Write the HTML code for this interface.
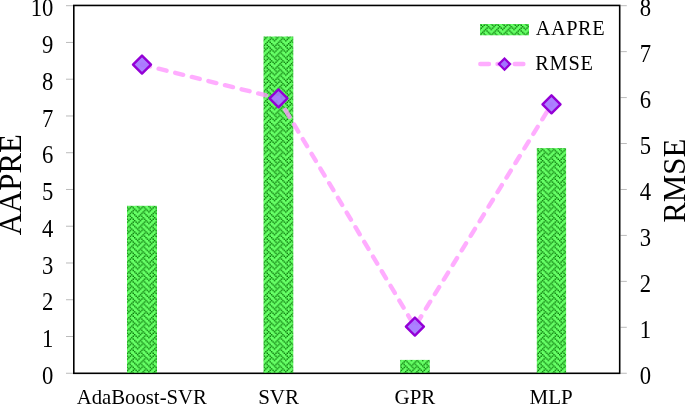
<!DOCTYPE html>
<html><head><meta charset="utf-8"><style>
html,body{margin:0;padding:0;background:#fff;overflow:hidden;}
svg{display:block;will-change:transform;}
text{font-family:"Liberation Serif",serif;fill:#000;}
</style></head><body>
<svg width="685" height="405" viewBox="0 0 685 405">
<defs>
<pattern id="wv" patternUnits="userSpaceOnUse" x="-0.09" y="0.27" width="11.410" height="11.410">
<rect width="11.410" height="11.410" fill="#66ff66"/>
<g fill="#006a00"><rect x="0.048" y="0.048" width="1.330" height="1.330"/><rect x="5.753" y="0.048" width="1.330" height="1.330"/><rect x="1.474" y="1.474" width="1.330" height="1.330"/><rect x="4.327" y="1.474" width="1.330" height="1.330"/><rect x="7.179" y="1.474" width="1.330" height="1.330"/><rect x="2.901" y="2.901" width="1.330" height="1.330"/><rect x="8.606" y="2.901" width="1.330" height="1.330"/><rect x="1.474" y="4.327" width="1.330" height="1.330"/><rect x="7.179" y="4.327" width="1.330" height="1.330"/><rect x="10.032" y="4.327" width="1.330" height="1.330"/><rect x="0.048" y="5.753" width="1.330" height="1.330"/><rect x="5.753" y="5.753" width="1.330" height="1.330"/><rect x="4.327" y="7.179" width="1.330" height="1.330"/><rect x="7.179" y="7.179" width="1.330" height="1.330"/><rect x="2.901" y="8.606" width="1.330" height="1.330"/><rect x="8.606" y="8.606" width="1.330" height="1.330"/><rect x="1.474" y="10.032" width="1.330" height="1.330"/><rect x="4.327" y="10.032" width="1.330" height="1.330"/><rect x="10.032" y="10.032" width="1.330" height="1.330"/></g>
</pattern>
</defs>
<path d="M66.0 373.25H73 M66.0 336.50H73 M66.0 299.74H73 M66.0 262.99H73 M66.0 226.23H73 M66.0 189.47H73 M66.0 152.72H73 M66.0 115.97H73 M66.0 79.21H73 M66.0 42.45H73 M66.0 5.70H73 M620.5 373.25H626.8 M620.5 327.31H626.8 M620.5 281.36H626.8 M620.5 235.42H626.8 M620.5 189.47H626.8 M620.5 143.53H626.8 M620.5 97.59H626.8 M620.5 51.64H626.8 M620.5 5.70H626.8" stroke="#bbb" stroke-width="1" fill="none"/>
<rect x="127.0" y="205.8" width="30.00" height="167.20" fill="url(#wv)"/>
<rect x="263.5" y="36.5" width="29.80" height="336.50" fill="url(#wv)"/>
<rect x="400.1" y="359.9" width="29.70" height="13.10" fill="url(#wv)"/>
<rect x="536.8" y="148.1" width="29.30" height="224.90" fill="url(#wv)"/>
<rect x="73.8" y="5.45" width="545.90" height="367.85" fill="none" stroke="#000" stroke-width="1.6"/>
<rect x="127.0" y="372.00" width="30.00" height="0.6" fill="url(#wv)"/>
<rect x="263.5" y="372.00" width="29.80" height="0.6" fill="url(#wv)"/>
<rect x="400.1" y="372.00" width="29.70" height="0.6" fill="url(#wv)"/>
<rect x="536.8" y="372.00" width="29.30" height="0.6" fill="url(#wv)"/>
<polyline points="142.0,64.6 278.5,98.4 414.9,326.6 551.5,104.35" fill="none" stroke="#ff99ff" stroke-opacity="0.8" stroke-width="4.4" stroke-linecap="round" stroke-linejoin="round" stroke-dasharray="8.2 8.9"/>
<path d="M142.0 55.60L151.00 64.6L142.0 73.60L133.00 64.6Z" fill="#a274ff" fill-opacity="0.9" stroke="#9400d6" stroke-width="2.4" stroke-linejoin="round"/>
<path d="M278.5 89.40L287.50 98.4L278.5 107.40L269.50 98.4Z" fill="#a274ff" fill-opacity="0.9" stroke="#9400d6" stroke-width="2.4" stroke-linejoin="round"/>
<path d="M414.9 317.60L423.90 326.6L414.9 335.60L405.90 326.6Z" fill="#a274ff" fill-opacity="0.9" stroke="#9400d6" stroke-width="2.4" stroke-linejoin="round"/>
<path d="M551.5 95.35L560.50 104.35L551.5 113.35L542.50 104.35Z" fill="#a274ff" fill-opacity="0.9" stroke="#9400d6" stroke-width="2.4" stroke-linejoin="round"/>
<text transform="translate(53.4,383.95) scale(0.91,1)" font-size="24.9" text-anchor="end">0</text>
<text transform="translate(53.4,347.19) scale(0.91,1)" font-size="24.9" text-anchor="end">1</text>
<text transform="translate(53.4,310.44) scale(0.91,1)" font-size="24.9" text-anchor="end">2</text>
<text transform="translate(53.4,273.69) scale(0.91,1)" font-size="24.9" text-anchor="end">3</text>
<text transform="translate(53.4,236.93) scale(0.91,1)" font-size="24.9" text-anchor="end">4</text>
<text transform="translate(53.4,200.17) scale(0.91,1)" font-size="24.9" text-anchor="end">5</text>
<text transform="translate(53.4,163.42) scale(0.91,1)" font-size="24.9" text-anchor="end">6</text>
<text transform="translate(53.4,126.67) scale(0.91,1)" font-size="24.9" text-anchor="end">7</text>
<text transform="translate(53.4,89.91) scale(0.91,1)" font-size="24.9" text-anchor="end">8</text>
<text transform="translate(53.4,53.15) scale(0.91,1)" font-size="24.9" text-anchor="end">9</text>
<text transform="translate(53.4,16.40) scale(0.91,1)" font-size="24.9" text-anchor="end">10</text>
<text transform="translate(639.8,383.95) scale(0.91,1)" font-size="24.9">0</text>
<text transform="translate(639.8,338.01) scale(0.91,1)" font-size="24.9">1</text>
<text transform="translate(639.8,292.06) scale(0.91,1)" font-size="24.9">2</text>
<text transform="translate(639.8,246.12) scale(0.91,1)" font-size="24.9">3</text>
<text transform="translate(639.8,200.17) scale(0.91,1)" font-size="24.9">4</text>
<text transform="translate(639.8,154.23) scale(0.91,1)" font-size="24.9">5</text>
<text transform="translate(639.8,108.29) scale(0.91,1)" font-size="24.9">6</text>
<text transform="translate(639.8,62.34) scale(0.91,1)" font-size="24.9">7</text>
<text transform="translate(639.8,16.40) scale(0.91,1)" font-size="24.9">8</text>
<text x="141.8" y="404.3" font-size="21" text-anchor="middle" textLength="130.1" lengthAdjust="spacingAndGlyphs">AdaBoost-SVR</text>
<text x="278.6" y="404.3" font-size="21" text-anchor="middle">SVR</text>
<text x="414.9" y="404.3" font-size="21" text-anchor="middle">GPR</text>
<text x="551.2" y="404.3" font-size="21" text-anchor="middle">MLP</text>
<text transform="translate(20.7,184.7) rotate(-90) scale(0.969,1)" font-size="31.8" text-anchor="middle">AAPRE</text>
<text transform="translate(685.2,180.75) rotate(-90) scale(0.969,1)" font-size="31.8" text-anchor="middle">RMSE</text>
<rect x="480" y="24" width="49" height="11.3" fill="url(#wv)"/>
<text x="535.7" y="34.5" font-size="20.3" textLength="68.9" lengthAdjust="spacing">AAPRE</text>
<path d="M480.3 64H525.6" fill="none" stroke="#ff99ff" stroke-opacity="0.8" stroke-width="4.4" stroke-linecap="round" stroke-dasharray="8.7 8.5"/>
<path d="M504.5 58.50L510.10 64.1L504.5 69.70L498.90 64.1Z" fill="#a274ff" stroke="#9400d6" stroke-width="2.2"/>
<text x="535.2" y="69.5" font-size="20.3" textLength="57.8" lengthAdjust="spacing">RMSE</text>
</svg>
</body></html>
